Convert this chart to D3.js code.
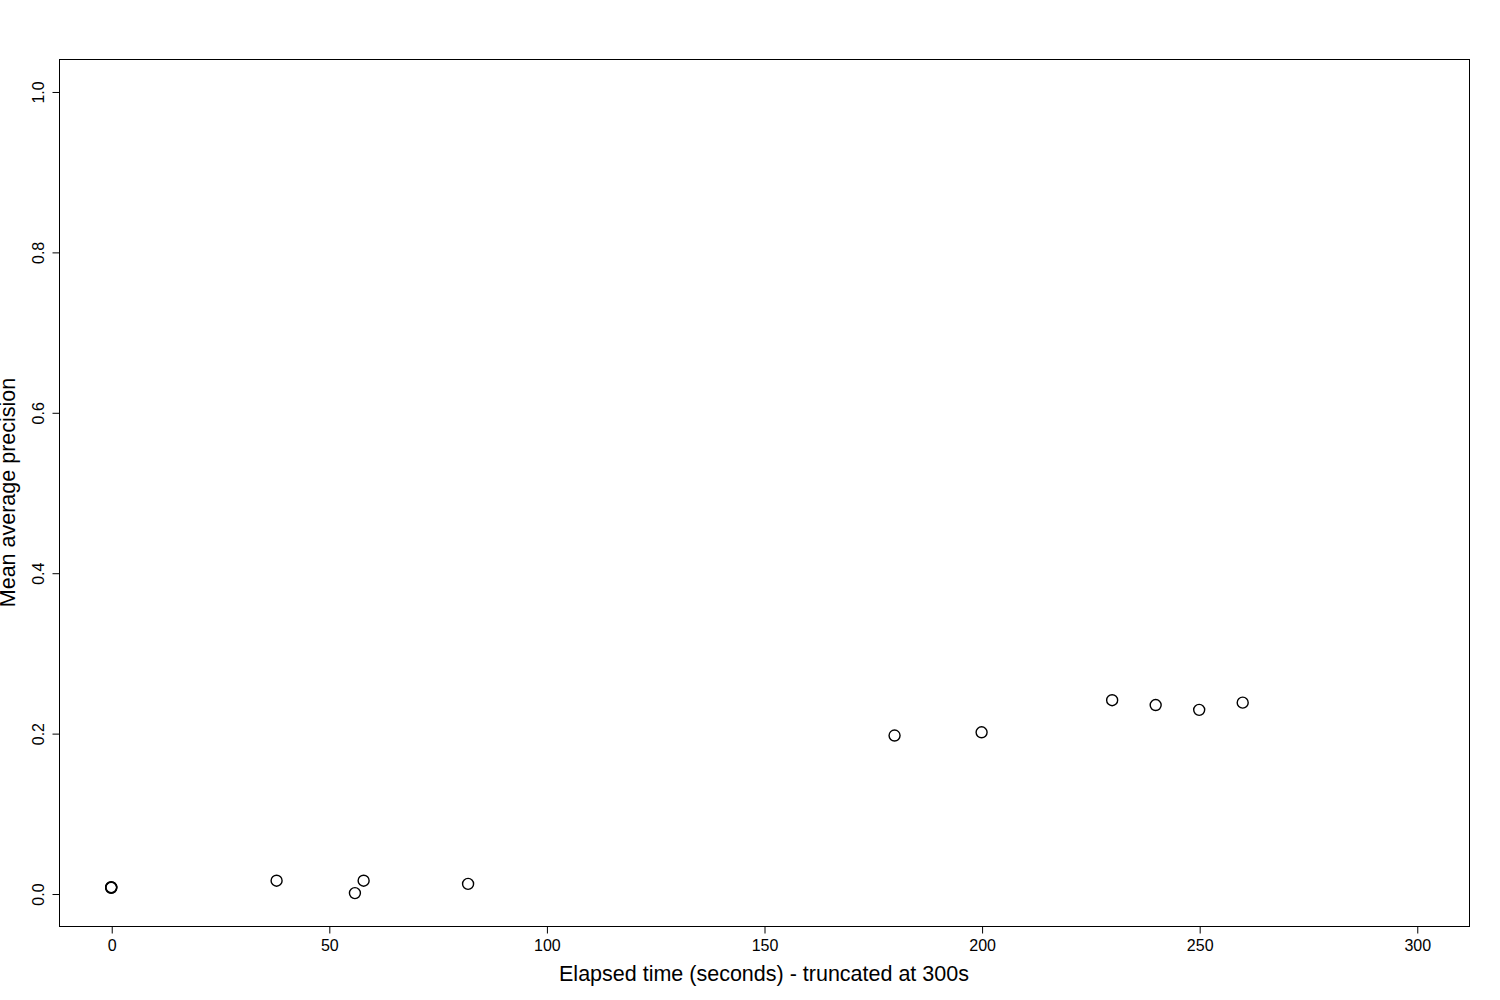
<!DOCTYPE html>
<html>
<head>
<meta charset="utf-8">
<script src="https://cdn.jsdelivr.net/npm/d3@7"></script>
<style>
  body { margin: 0; background: #fff; }
  text { font-family: "Liberation Sans", Arial, sans-serif; fill: #000; }
</style>
</head>
<body>
<div id="chart"></div>
<script>
// elapsed time (s) and mean average precision
const elapsed = [0, 0, 0, 38, 56, 58, 82, 180, 200, 230, 240, 250, 260];
const meanAP = [0.007, 0.0075, 0.008, 0.016, 0.0005, 0.016, 0.012, 0.197, 0.201, 0.241, 0.235, 0.229, 0.238];
const xTicks = [0, 50, 100, 150, 200, 250, 300];
const yTicks = [0.0, 0.2, 0.4, 0.6, 0.8, 1.0];

const width = 1500, height = 1000;
const box = { left: 59, right: 1469, top: 59, bottom: 926 };

const svg = d3.select("#chart").append("svg")
    .attr("width", width)
    .attr("height", height);

const x = d3.scaleLinear().domain([-12, 312]).range([box.left, box.right]);
const y = d3.scaleLinear().domain([-0.0405, 1.0405]).range([box.bottom, box.top]);

// plot frame
svg.append("rect")
    .attr("x", box.left + 0.5)
    .attr("y", box.top + 0.5)
    .attr("width", box.right - box.left)
    .attr("height", box.bottom - box.top)
    .attr("fill", "none")
    .attr("stroke", "#000")
    .attr("stroke-width", 1);

// x axis
const xAxis = svg.append("g")
    .attr("transform", `translate(0.5,${box.bottom + 0.5})`)
    .call(d3.axisBottom(x).tickValues(xTicks).tickSize(7).tickPadding(5).tickFormat(d3.format("d")));
xAxis.select(".domain").attr("d", `M${x(0)},0H${x(300)}`);
xAxis.selectAll("text").style("font-size", "16px").attr("dy", "0.75em");

// y axis
const yAxis = svg.append("g")
    .attr("transform", `translate(${box.left + 0.5},0.5)`)
    .call(d3.axisLeft(y).tickValues(yTicks).tickSize(7).tickFormat(d3.format(".1f")));
yAxis.select(".domain").attr("d", `M0,${y(0)}V${y(1)}`);
yAxis.selectAll("text")
    .style("font-size", "16px")
    .attr("text-anchor", "middle")
    .attr("dy", null)
    .attr("x", null)
    .attr("transform", "translate(-16,0) rotate(-90)");

// axis titles
svg.append("text")
    .attr("x", (box.left + box.right) / 2)
    .attr("y", 981)
    .attr("text-anchor", "middle")
    .style("font-size", "21.5px")
    .text("Elapsed time (seconds) - truncated at 300s");

svg.append("text")
    .attr("transform", `translate(15,${(box.top + box.bottom) / 2}) rotate(-90)`)
    .attr("text-anchor", "middle")
    .style("font-size", "21.5px")
    .text("Mean average precision");

// points
svg.append("g")
    .selectAll("circle")
    .data(elapsed.map((t, i) => [t, meanAP[i]]))
    .join("circle")
    .attr("cx", d => x(d[0]))
    .attr("cy", d => y(d[1]))
    .attr("r", 5.5)
    .attr("fill", "none")
    .attr("stroke", "#000")
    .attr("stroke-width", 1.4);
</script>
</body>
</html>
